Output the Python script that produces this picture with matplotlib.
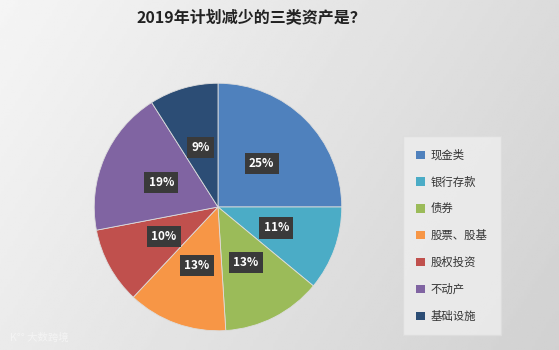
import numpy as np
import matplotlib
matplotlib.use('Agg')
import matplotlib.pyplot as plt
from matplotlib.patches import Patch

plt.rcParams['font.family'] = ['Noto Sans CJK SC', 'DejaVu Sans']

labels = ['现金类', '银行存款', '债券', '股票、股基', '股权投资', '不动产', '基础设施']
values = [25, 11, 13, 13, 10, 19, 9]
colors = ['#4F81BD', '#4BACC6', '#9BBB59', '#F79646', '#C0504D', '#8064A2', '#2C4D75']

W, H = 559, 350
fig = plt.figure(figsize=(W / 100, H / 100), dpi=100)

# grey gradient background
bg = fig.add_axes([0, 0, 1, 1])
gx = np.linspace(0, 1, 200)
gy = np.linspace(0, 1, 120)
X, Y = np.meshgrid(gx, gy)
grad = 0.96 - 0.10 * X - 0.04 * Y
bg.imshow(grad, cmap='gray', vmin=0, vmax=1, aspect='auto', extent=[0, 1, 0, 1])
bg.axis('off')

fig.text(251 / W, 1 - 17 / H, '2019年计划减少的三类资产是？', ha='center', va='center',
         fontsize=11.5, fontweight='bold', color='#222222')

cx, cy, r = 218, 207, 125
ax = fig.add_axes([(cx - r) / W, (H - cy - r) / H, 2 * r / W, 2 * r / H])
wedges, texts = ax.pie(values, colors=colors, startangle=90, counterclock=False,
                       wedgeprops=dict(linewidth=0.6, edgecolor='#dddddd'))
ax.set_xlim(-1.01, 1.01)
ax.set_ylim(-1.01, 1.01)
ax.set_aspect('equal')

for w, v in zip(wedges, values):
    ang = np.deg2rad((w.theta1 + w.theta2) / 2)
    ax.text(0.5 * np.cos(ang), 0.5 * np.sin(ang), f'{v}%', ha='center', va='center',
            fontsize=8.5, fontweight='bold', color='white',
            bbox=dict(boxstyle='square,pad=0.35', facecolor='#3a3a3a', edgecolor='none'))

handles = [Patch(facecolor=c, edgecolor='none') for c in colors]
leg = fig.legend(handles, labels, loc='upper left', bbox_to_anchor=(401 / W, 1 - 134 / H),
                 fontsize=8.2, frameon=True, handlelength=0.75, handleheight=0.75,
                 labelspacing=1.38, borderpad=0.85, handletextpad=0.5)
leg.get_frame().set_facecolor('#eeeeee')
leg.get_frame().set_edgecolor('#dddddd')
leg.get_frame().set_boxstyle('square')
for t in leg.get_texts():
    t.set_color('#333333')

fig.text(10 / W, 1 - 338 / H, 'K°° 大数跨境', fontsize=7.5, color='#f4f4f4',
         ha='left', va='center')

fig.savefig('out.png', dpi=100)
